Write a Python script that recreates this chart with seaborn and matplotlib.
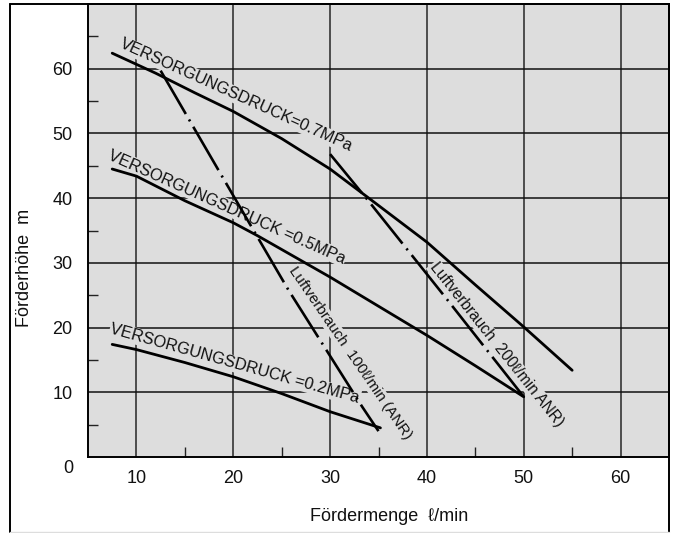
import matplotlib
matplotlib.use("Agg")
import matplotlib.pyplot as plt
import seaborn as sns
import pandas as pd
from matplotlib.lines import Line2D
from matplotlib.ticker import FixedLocator

# ---------------- data ----------------
flow_07 = [7.5, 12, 16, 20, 25, 30, 34, 40, 45, 50, 55]
head_07 = [62.4, 59.3, 56.3, 53.4, 49.2, 44.5, 40.0, 33.2, 26.6, 20.1, 13.4]

flow_05 = [7.5, 10, 15, 20, 22.5, 30, 35, 40, 45, 50]
head_05 = [44.5, 43.4, 39.6, 36.2, 34.2, 27.8, 23.3, 18.8, 14.1, 9.3]

flow_02 = [7.5, 10, 15, 20, 25, 30, 35.2]
head_02 = [17.4, 16.6, 14.6, 12.4, 9.8, 7.0, 4.5]

flow_100 = [12.5, 20, 25.7, 33.3, 35]
head_100 = [59.7, 40.4, 25.8, 7.8, 4.0]

flow_200 = [30, 34, 42, 50]
head_200 = [46.8, 39.5, 24.5, 9.3]

x_ticks = [10, 20, 30, 40, 50, 60]
y_ticks = [10, 20, 30, 40, 50, 60]

label_07 = "VERSORGUNGSDRUCK=0.7MPa"
label_05 = "VERSORGUNGSDRUCK =0.5MPa"
label_02 = "VERSORGUNGSDRUCK =0.2MPa"
label_100 = "Luftverbrauch  100ℓ/min (ANR)"
label_200 = "Luftverbrauch  200ℓ/min ANR)"
x_label = "Fördermenge  ℓ/min"
y_label = "Förderhöhe  m"

# ---------------- style ----------------
sns.set_theme(style="white")
plt.rcParams["font.family"] = ["Liberation Sans", "DejaVu Sans"]

W, H = 675, 533
fig = plt.figure(figsize=(W / 100, H / 100), dpi=100)
fig.patch.set_facecolor("white")

ax_l, ax_r, ax_t, ax_b = 88, 669, 4, 457
ax = fig.add_axes([ax_l / W, 1 - ax_b / H, (ax_r - ax_l) / W, (ax_b - ax_t) / H])
ax.set_facecolor("#dddddd")

# outer frame of the whole figure
fx0, fx1, fy0, fy1 = 10 / W, 669 / W, 1 - 532 / H, 1 - 4 / H
fig.add_artist(Line2D([fx0, fx0], [fy0, fy1], color="black", lw=1.4, transform=fig.transFigure))
fig.add_artist(Line2D([fx0, fx1], [fy1, fy1], color="black", lw=1.4, transform=fig.transFigure))
fig.add_artist(Line2D([fx1, fx1], [fy0, fy1], color="black", lw=1.4, transform=fig.transFigure))
fig.add_artist(Line2D([fx0, fx1], [fy0, fy0], color="#dddddd", lw=1.0, transform=fig.transFigure))

# ---------------- curves ----------------
solid = pd.concat([
    pd.DataFrame({"flow": flow_07, "head": head_07, "curve": "0.7"}),
    pd.DataFrame({"flow": flow_05, "head": head_05, "curve": "0.5"}),
    pd.DataFrame({"flow": flow_02, "head": head_02, "curve": "0.2"}),
])
sns.lineplot(data=solid, x="flow", y="head", hue="curve",
             palette=["black", "black", "black"], estimator=None, sort=False,
             lw=2.0, legend=False, ax=ax, zorder=3)

dashdot = (0, (19, 2.4, 0.8, 2.4))
sns.lineplot(x=flow_100, y=head_100, color="black", lw=1.9, linestyle=dashdot,
             estimator=None, sort=False, ax=ax, zorder=3)
sns.lineplot(x=flow_200, y=head_200, color="black", lw=1.9, linestyle=dashdot,
             estimator=None, sort=False, ax=ax, zorder=3)

# ---------------- axes ----------------
ax.set_xlim(5, 65)
ax.set_ylim(0, 70)
ax.set_xticks(x_ticks)
ax.set_yticks(y_ticks)
ax.xaxis.set_minor_locator(FixedLocator([15, 25, 35, 45, 55]))
ax.yaxis.set_minor_locator(FixedLocator([5, 15, 25, 35, 45, 55, 65]))
ax.tick_params(axis="both", which="major", length=0, labelsize=13, colors="#111111")
ax.tick_params(axis="y", which="major", pad=11)
ax.tick_params(axis="x", which="major", pad=9.5)
ax.tick_params(axis="both", which="minor", direction="in", length=7, width=1.0,
               color="#222222", bottom=True, left=True)

ax.set_axisbelow(True)
ax.grid(axis="y", which="major", color="#111111", lw=1.1)
ax.grid(axis="x", which="major", color="#4d4d4d", lw=1.4)

for s in ["left", "bottom", "top", "right"]:
    ax.spines[s].set_visible(True)
    ax.spines[s].set_color("black")
    ax.spines[s].set_linewidth(1.4)

ax.annotate("0", xy=(0, 0), xycoords="axes fraction", xytext=(-14.5, -8.5),
            textcoords="offset points", ha="center", va="center", fontsize=13,
            color="#111111")

ax.set_xlabel(x_label, fontsize=13, color="#111111")
ax.set_ylabel(y_label, fontsize=13, color="#111111")
ax.xaxis.set_label_coords(0.518, -0.113)
ax.yaxis.set_label_coords(-0.095, 0.417)

# ---------------- curve labels ----------------
bbox = dict(boxstyle="square,pad=0.05", fc="#dddddd", ec="none")
lab_kw = dict(color="#111111", rotation_mode="anchor", zorder=1.5, bbox=bbox)
ax.text(8.2, 63.3, label_07, rotation=-24.3, ha="left", va="baseline", fontsize=11.8, **lab_kw)
ax.text(7.0, 46.1, label_05, rotation=-24.0, ha="left", va="baseline", fontsize=11.8, **lab_kw)
ax.text(7.2, 19.1, label_02, rotation=-15.7, ha="left", va="baseline", fontsize=11.8, **lab_kw)
ax.text(32.1, 16.0, label_100, rotation=-55.5, ha="center", va="center", fontsize=10.9, **lab_kw)
ax.text(47.2, 17.4, label_200, rotation=-51.5, ha="center", va="center", fontsize=11.2, **lab_kw)

fig.savefig("out.png", dpi=100)
